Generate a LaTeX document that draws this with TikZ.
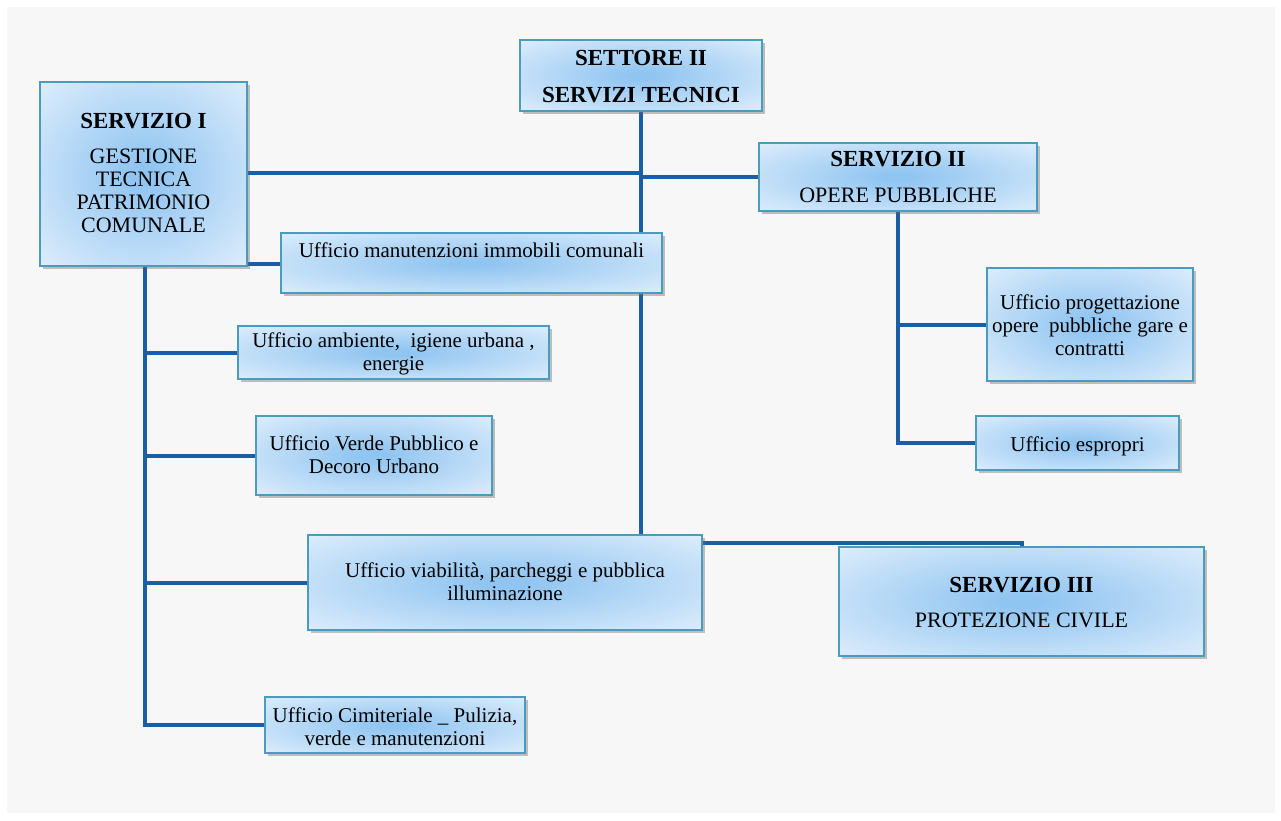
\documentclass[tikz,border=0pt]{standalone}
\usepackage{fontspec}
\setmainfont{Liberation Serif}
\usetikzlibrary{shadows,calc}
\definecolor{linec}{RGB}{26,95,165}
\definecolor{bordc}{RGB}{75,155,190}
\definecolor{boxin}{RGB}{145,197,241}
\definecolor{boxout}{RGB}{236,245,254}
\definecolor{bgc}{RGB}{247,247,247}
\pgfdeclareradialshading{boxshade}{\pgfpoint{0bp}{0bp}}{%
  color(0bp)=(boxin); color(3bp)=(boxin); color(42bp)=(boxout); color(50bp)=(boxout)}
\pgfdeclarelayer{back}
\pgfdeclarelayer{conns}
\pgfsetlayers{back,conns,main}
\tikzset{
  box/.style={draw=bordc, line width=1.6pt, shading=boxshade,
    inner sep=0pt, outer sep=0pt, anchor=north west,
    drop shadow={shadow xshift=2.5pt, shadow yshift=-3pt, opacity=0.4, fill=black!60}},
  conn/.style={draw=linec, line width=4pt},
  hdline/.style={anchor=base, inner sep=0pt, font=\fontsize{23}{25}\selectfont\bfseries},
  capline/.style={anchor=base, inner sep=0pt, font=\fontsize{22}{23}\selectfont},
  txline/.style={anchor=base, inner sep=0pt, font=\fontsize{21}{23}\selectfont}
}
\begin{document}
\begin{tikzpicture}[x=1pt,y=-1pt]
\useasboundingbox (0,0) rectangle (1281,820);
\begin{pgfonlayer}{back}
\fill[bgc] (7,7) rectangle (1275,813);
\end{pgfonlayer}

% boxes
\node[box, minimum width=242pt, minimum height=71pt] (set) at (520,40) {};
\node[box, minimum width=207pt, minimum height=184pt] (s1) at (40,82) {};
\node[box, minimum width=278pt, minimum height=68pt] (s2) at (759,143) {};
\node[box, minimum width=381pt, minimum height=60pt] (man) at (281,233) {};
\node[box, minimum width=311pt, minimum height=53pt] (amb) at (238,326) {};
\node[box, minimum width=236pt, minimum height=79pt] (ver) at (256,416) {};
\node[box, minimum width=394pt, minimum height=95pt] (via) at (308,535) {};
\node[box, minimum width=365pt, minimum height=109pt] (s3) at (839,547) {};
\node[box, minimum width=206pt, minimum height=113pt] (pro) at (987,268) {};
\node[box, minimum width=203pt, minimum height=54pt] (esp) at (976,416) {};
\node[box, minimum width=260pt, minimum height=56pt] (cim) at (265,697) {};

% texts
\node[hdline] (setA) at (641,65) {SETTORE II};
\node[hdline] (setB) at (641,102) {SERVIZI TECNICI};
\node[hdline] (s1A) at (143.5,128) {SERVIZIO I};
\node[capline] (s1B) at (143.5,163) {GESTIONE};
\node[capline] (s1C) at (143.5,186) {TECNICA};
\node[capline] (s1D) at (143.5,209) {PATRIMONIO};
\node[capline] (s1E) at (143.5,232) {COMUNALE};
\node[hdline] (s2A) at (898,166) {SERVIZIO II};
\node[capline] (s2B) at (898,202) {OPERE PUBBLICHE};
\node[txline] (manA) at (471.5,257) {Ufficio manutenzioni immobili comunali};
\node[txline] (ambA) at (393.5,347) {Ufficio ambiente,\ \ igiene urbana ,};
\node[txline] (ambB) at (393.5,370) {energie};
\node[txline] (verA) at (374,450) {Ufficio Verde Pubblico e};
\node[txline] (verB) at (374,473) {Decoro Urbano};
\node[txline] (viaA) at (505,577) {Ufficio viabilità, parcheggi e pubblica};
\node[txline] (viaB) at (505,600) {illuminazione};
\node[hdline] (s3A) at (1021.5,592) {SERVIZIO III};
\node[capline] (s3B) at (1021.5,627) {PROTEZIONE CIVILE};
\node[txline] (proA) at (1090,309) {Ufficio progettazione};
\node[txline] (proB) at (1090,332) {opere\ \ pubbliche gare e};
\node[txline] (proC) at (1090,355) {contratti};
\node[txline] (espA) at (1077.5,451) {Ufficio espropri};
\node[txline] (cimA) at (395,722) {Ufficio Cimiteriale \_ Pulizia,};
\node[txline] (cimB) at (395,745) {verde e manutenzioni};

% connectors
\coordinate (j1) at (640,173);
\coordinate (j2) at (640,177);
\coordinate (k0) at (247,264);
\coordinate (t1) at (145,266);
\coordinate (v1) at (702,543);
\begin{pgfonlayer}{conns}
\draw[conn] (set.south) -- (set.south |- via.north);
\draw[conn] (s1.east |- j1) -- (j1);
\draw[conn] (j2) -- (j2 -| s2.west);
\draw[conn] (k0) -- (k0 -| man.west);
\draw[conn] (t1) -- (t1 |- cim.west) -- (cim.west);
\draw[conn] (t1 |- amb.west) -- (amb.west);
\draw[conn] (t1 |- ver.west) -- (ver.west);
\draw[conn] (t1 |- via.west) -- (via.west);
\draw[conn] (s2.south) -- (s2.south |- esp.west) -- (esp.west);
\draw[conn] (s2.south |- pro.west) -- (pro.west);
\draw[conn] (v1) -| (s3.north);
\end{pgfonlayer}
\end{tikzpicture}
\end{document}
